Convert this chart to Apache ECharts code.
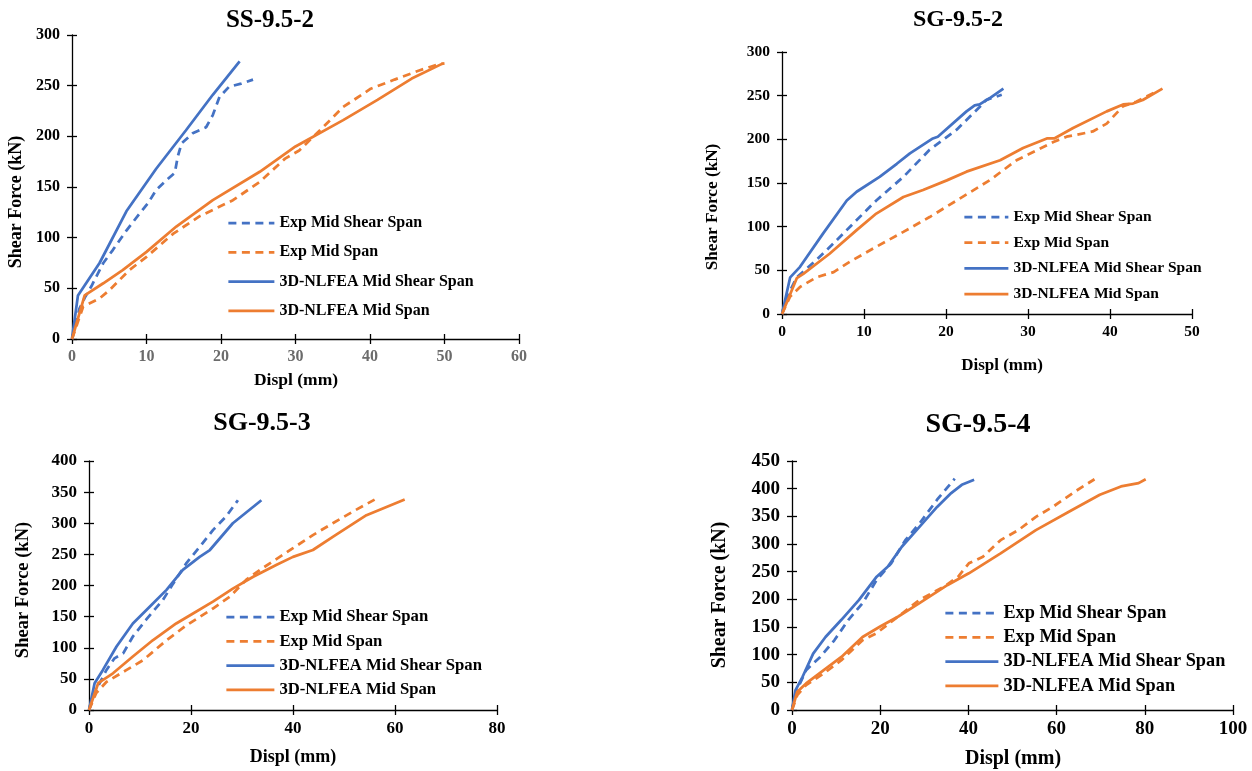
<!DOCTYPE html>
<html>
<head>
<meta charset="utf-8">
<script src="https://cdn.jsdelivr.net/npm/echarts@6/dist/echarts.min.js"></script>
<style>
html, body { margin: 0; padding: 0; background: #fff; }
#chart { width: 1252px; height: 771px; }
</style>
</head>
<body>
<div id="chart"></div>
<script>
// series names (same in all four panels)
const seriesNames = ['Exp Mid Shear Span', 'Exp Mid Span', '3D-NLFEA Mid Shear Span', '3D-NLFEA Mid Span'];
const panelTitles = ['SS-9.5-2', 'SG-9.5-2', 'SG-9.5-3', 'SG-9.5-4'];

// SS-9.5-2  [displ mm, shear kN]
const ss2ExpShear = [[0,0],[1.0,30],[1.8,42],[2.6,52],[4.2,75],[5.5,88],[7.3,107],[9.1,124],[10.2,134],[11.3,147],[12.7,157],[13.8,164],[14.2,180],[14.7,193],[16.2,203],[18,209],[18.9,221],[19.8,239],[21.1,249],[22.7,252],[24.3,256]];
const ss2ExpMid = [[0,0],[1.5,32],[3.7,40],[5,48],[7.7,68],[10,81],[13.6,104],[17.1,121],[21.6,137],[25.2,155],[28.6,178],[30.5,186],[33.7,209],[36.4,229],[40.1,247],[43.3,256],[46.6,265],[49.1,271],[50,272]];
const ss2FeaShear = [[0,0],[0.8,43],[3.7,75],[7.3,126],[11.3,168],[15.3,206],[18.9,241],[22.5,274]];
const ss2FeaMid = [[0,0],[1.7,43],[4.2,55],[6.8,68],[10,86],[14,111],[18.9,137],[25.2,165],[30,190],[36.4,216],[41,236],[45.6,257],[49.8,272]];

// SG-9.5-2
const sg2ExpShear = [[0,0],[1,27],[1.8,42],[4.2,62],[6.3,81],[8.3,100],[11.5,130],[14.8,157],[18,188],[21.3,211],[24.1,237],[24.9,245],[26.8,251]];
const sg2ExpMid = [[0,0],[1,20],[2.2,31],[4.2,42],[6.3,48],[8.3,60],[11.5,77],[14.8,94],[18,111],[21.3,130],[25.3,153],[28.6,176],[33.1,197],[34.7,203],[37.9,209],[39.6,218],[41.6,238],[43.2,243],[45.7,255]];
const sg2FeaShear = [[0,0],[1,42],[2.2,54],[5,92],[7.9,130],[9.1,140],[11.9,157],[14,172],[15.6,184],[18.4,201],[19,203],[22.5,232],[23.5,239],[24.1,240],[25.3,247],[27,258]];
const sg2FeaMid = [[0,0],[1.8,41],[2.6,46],[5.8,69],[9.1,96],[11.5,115],[14.8,134],[17.2,142],[20.1,153],[22.5,163],[26.6,176],[29.4,190],[32.3,201],[33.2,201],[35.5,213],[39.6,232],[41.6,240],[42.8,241],[44,245],[46.4,258]];

// SG-9.5-3
const sg3ExpShear = [[0,0],[1.4,32],[3.4,64],[5,83],[6.7,91],[8.6,118],[11.2,145],[14.5,177],[16.5,203],[19.1,236],[21.7,262],[24.3,289],[26.9,311],[29.2,337]];
const sg3ExpMid = [[0,0],[1.4,27],[3.4,45],[7.3,64],[10.6,80],[15.2,112],[19.1,136],[24.3,163],[27.6,182],[30.8,209],[33.5,225],[37.4,246],[40,260],[43.9,281],[47.8,300],[51.8,319],[56,338]];
const sg3FeaShear = [[0,0],[1.1,43],[2.7,64],[5.4,102],[8.6,139],[11.9,166],[15.2,193],[18.4,225],[21.7,246],[23.7,257],[28.2,300],[33.8,337]];
const sg3FeaMid = [[0,0],[1.8,43],[4.7,59],[8.6,86],[12.5,112],[17.1,139],[20.4,155],[24.3,174],[28.2,195],[32.2,214],[36.7,233],[40,246],[43.9,257],[47.8,278],[54.4,313],[61.9,338]];

// SG-9.5-4
const sg4ExpShear = [[0,0],[0.8,30],[3.2,72],[6.4,96],[9.6,126],[12.8,163],[16,193],[19.2,235],[22.5,265],[25.7,307],[28.9,337],[32.9,380],[36.9,418]];
const sg4ExpMid = [[0,0],[1.2,27],[3.2,45],[7.2,66],[11.2,90],[16,126],[19.2,139],[24.1,169],[28.9,199],[34.5,223],[37.7,241],[40.1,265],[43.3,277],[47.3,307],[51.3,325],[55.3,349],[59.3,368],[64.2,395],[68.6,417]];
const sg4FeaShear = [[0,0],[0.8,36],[2.4,60],[4.8,102],[7.6,132],[11.2,163],[15.2,199],[19.2,241],[21.7,259],[24.9,295],[28.9,331],[32.9,367],[36.1,392],[38.5,407],[41.3,416]];
const sg4FeaMid = [[0,0],[1.2,33],[3.2,48],[7.2,72],[11.2,96],[16,132],[20,151],[24.1,169],[28.9,193],[35.3,226],[40.1,247],[47.3,283],[55.3,325],[63.4,361],[69.8,389],[74.6,404],[78.6,410],[80.2,417]];

// axis ranges
const xMaxes = [60, 50, 80, 100];
const xSteps = [10, 10, 20, 20];
const yMaxes = [300, 300, 400, 450];
const ySteps = [50, 50, 50, 50];

const panelData = [
    [ss2ExpShear, ss2ExpMid, ss2FeaShear, ss2FeaMid],
    [sg2ExpShear, sg2ExpMid, sg2FeaShear, sg2FeaMid],
    [sg3ExpShear, sg3ExpMid, sg3FeaShear, sg3FeaMid],
    [sg4ExpShear, sg4ExpMid, sg4FeaShear, sg4FeaMid]
];

const FONT = "'Times New Roman', 'Liberation Serif', serif";
const BLUE = '#4472C4';
const ORANGE = '#ED7D31';
const lineColors = [BLUE, ORANGE, BLUE, ORANGE];
const lineDashed = [true, true, false, false];

// layout of each panel (pixels)
const layout = [
    { left: 72, top: 35, width: 447, height: 304, tick: 16, xLabelColor: '#6b6b6b',
      title: [270, 21, 25], xName: [296, 380, 17.5], yName: [16, 202, 18],
      legend: { left: 227, row: 223, gap: 29.3, w: 46, font: 16 } },
    { left: 782, top: 52, width: 410, height: 262, tick: 15.5, xLabelColor: '#000',
      title: [958, 20, 24], xName: [1002, 366, 17], yName: [713, 207, 17.2],
      legend: { left: 963, row: 217, gap: 25.7, w: 44, font: 15.5 } },
    { left: 89, top: 461, width: 408, height: 249, tick: 17, xLabelColor: '#000',
      title: [262, 423, 26], xName: [293, 757, 18], yName: [23, 590, 18.5],
      legend: { left: 225, row: 617, gap: 24.3, w: 48, font: 16.7 } },
    { left: 792, top: 461, width: 441, height: 249, tick: 19, xLabelColor: '#000',
      title: [978, 425, 28], xName: [1013, 759, 20], yName: [720, 595, 19.9],
      legend: { left: 944, row: 613, gap: 24.3, w: 53, font: 18.3 } }
];

let grids = [], xAxes = [], yAxes = [], series = [], legends = [], graphics = [];

layout.forEach(function (p, i) {
    grids.push({ left: p.left, top: p.top, width: p.width, height: p.height });
    const axisLine = { onZero: false, lineStyle: { color: '#000', width: 1.3 } };
    const tick = { show: true, length: 5, lineStyle: { color: '#000', width: 1.3 } };
    // main axes (ticks outside)
    xAxes.push({
        type: 'value', gridIndex: i, min: 0, max: xMaxes[i], interval: xSteps[i],
        axisLine: axisLine, axisTick: tick, splitLine: { show: false },
        axisLabel: { margin: 10, fontSize: p.tick, fontWeight: 'bold', fontFamily: FONT, color: p.xLabelColor }
    });
    // twin axis moved onto the same line so the ticks cross it
    xAxes.push({
        type: 'value', gridIndex: i, position: 'top', offset: -p.height,
        min: 0, max: xMaxes[i], interval: xSteps[i],
        axisLine: { show: false, onZero: false }, axisTick: tick, axisLabel: { show: false }, splitLine: { show: false }
    });
    yAxes.push({
        type: 'value', gridIndex: i, min: 0, max: yMaxes[i], interval: ySteps[i],
        axisLine: axisLine, axisTick: tick, splitLine: { show: false },
        axisLabel: { margin: 12, fontSize: p.tick, fontWeight: 'bold', fontFamily: FONT, color: '#000' }
    });
    yAxes.push({
        type: 'value', gridIndex: i, position: 'right', offset: -p.width,
        min: 0, max: yMaxes[i], interval: ySteps[i],
        axisLine: { show: false, onZero: false }, axisTick: tick, axisLabel: { show: false }, splitLine: { show: false }
    });

    panelData[i].forEach(function (d, k) {
        series.push({
            name: seriesNames[k], type: 'line', xAxisIndex: 2 * i, yAxisIndex: 2 * i,
            data: d, symbol: 'none', smooth: false,
            lineStyle: { color: lineColors[k], width: 2.75, type: lineDashed[k] ? [8, 5.5] : 'solid' },
            itemStyle: { color: lineColors[k] }
        });
    });

    const lg = p.legend;
    const lh = Math.round(lg.font + 2);
    legends.push({
        orient: 'vertical', left: lg.left, top: lg.row - lh / 2, padding: 0,
        itemWidth: lg.w, itemHeight: 12, itemGap: lg.gap - lh, selectedMode: false,
        data: seriesNames,
        // hide the symbol that the line legend icon draws, keep the line
        itemStyle: { opacity: 0, color: 'rgba(0,0,0,0)', borderColor: 'rgba(0,0,0,0)', borderWidth: 0 },
        lineStyle: { width: 2.75 },
        textStyle: { fontSize: lg.font, fontWeight: 'bold', fontFamily: FONT, color: '#000', lineHeight: lh }
    });

    graphics.push({
        type: 'text', x: p.title[0], y: p.title[1],
        style: { text: panelTitles[i], font: 'bold ' + p.title[2] + 'px ' + FONT, fill: '#000', textAlign: 'center', textVerticalAlign: 'middle' }
    });
    graphics.push({
        type: 'text', x: p.xName[0], y: p.xName[1],
        style: { text: 'Displ (mm)', font: 'bold ' + p.xName[2] + 'px ' + FONT, fill: '#000', textAlign: 'center', textVerticalAlign: 'middle' }
    });
    graphics.push({
        type: 'text', x: p.yName[0], y: p.yName[1], rotation: Math.PI / 2,
        style: { text: 'Shear Force (kN)', font: 'bold ' + p.yName[2] + 'px ' + FONT, fill: '#000', textAlign: 'center', textVerticalAlign: 'middle' }
    });
});

let myChart = echarts.init(document.getElementById('chart'));
myChart.setOption({
    backgroundColor: '#fff',
    animation: false,
    grid: grids,
    xAxis: xAxes,
    yAxis: yAxes,
    legend: legends,
    graphic: graphics,
    series: series
});
</script>
</body>
</html>
